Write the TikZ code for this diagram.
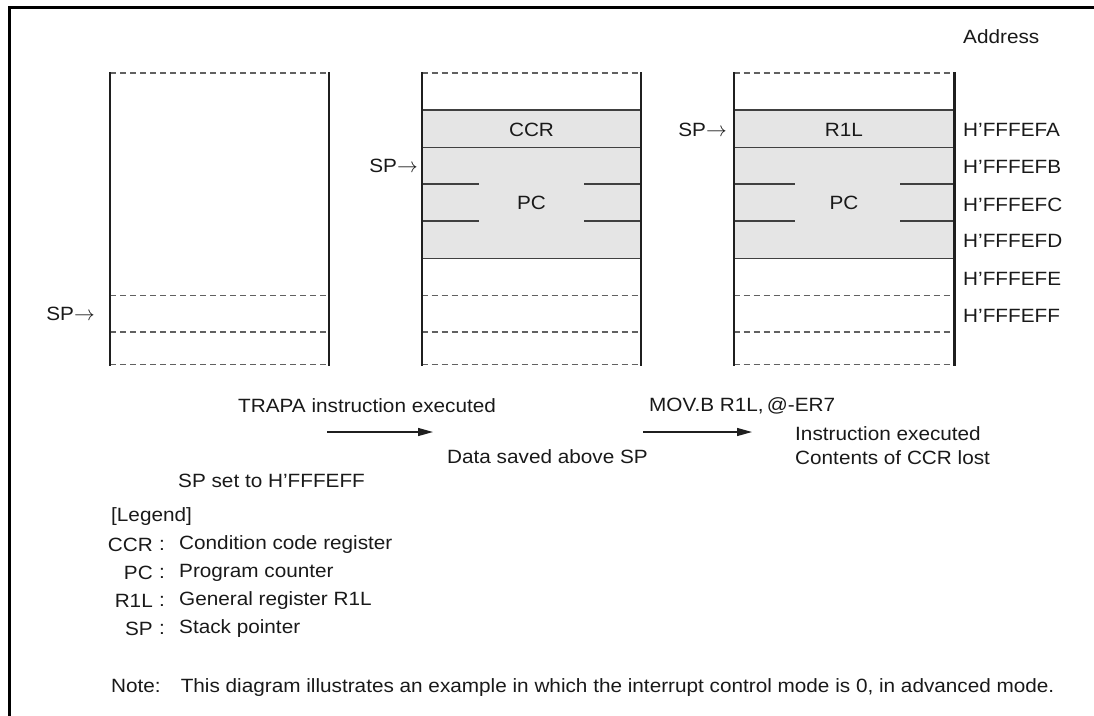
\documentclass[tikz,border=0pt]{standalone}
\usepackage{fontspec}
\setmainfont{Liberation Sans}[FakeStretch=1.08]
\usetikzlibrary{arrows.meta}
\begin{document}
\begin{tikzpicture}[x=1pt,y=-1pt,
  txt/.style={inner sep=0pt, font=\fontsize{19.2}{22}\selectfont, text=black!90},
  colline/.style={line width=2.4pt, draw=black!88},
  solidline/.style={line width=1.4pt, draw=black!75},
  dashline/.style={line width=1.4pt, draw=black!62, dash pattern=on 6pt off 4pt},
  flow/.style={line width=1.3pt, draw=black!88, -{Triangle[length=15pt,width=8pt]}},
  framel/.style={line width=3pt, draw=black}]
\useasboundingbox (0,0) rectangle (1094,715);
% outer frame (open at right and bottom of the crop)
\draw[framel] (9,716) -- (9,7.5) -- (1095,7.5);

% ---------- column 1 ----------
\draw[dashline] (110,73) -- (329,73);
\draw[dashline] (110,295.3) -- (329,295.3);
\draw[dashline] (110,332) -- (329,332);
\draw[dashline] (110,364.5) -- (329,364.5);
\draw[colline] (110,72) -- (110,365.5);
\draw[colline] (329,72) -- (329,365.5);

% ---------- column 2 ----------
\fill[black!10] (421.7,110) rectangle (641,258.3);
\draw[dashline] (421.7,73) -- (641,73);
\draw[solidline] (421.7,110) -- (641,110);
\draw[solidline] (421.7,147.3) -- (641,147.3);
\draw[solidline] (421.7,184) -- (479,184);
\draw[solidline] (584,184) -- (641,184);
\draw[solidline] (421.7,221) -- (479,221);
\draw[solidline] (584,221) -- (641,221);
\draw[solidline] (421.7,258.3) -- (641,258.3);
\draw[dashline] (421.7,295.3) -- (641,295.3);
\draw[dashline] (421.7,332) -- (641,332);
\draw[dashline] (421.7,364.5) -- (641,364.5);
\draw[colline] (421.7,72) -- (421.7,365.5);
\draw[colline] (641,72) -- (641,365.5);

% ---------- column 3 ----------
\fill[black!10] (733.7,110) rectangle (954.3,258.3);
\draw[dashline] (733.7,73) -- (954.3,73);
\draw[solidline] (733.7,110) -- (954.3,110);
\draw[solidline] (733.7,147.3) -- (954.3,147.3);
\draw[solidline] (733.7,184) -- (794.7,184);
\draw[solidline] (900,184) -- (954.3,184);
\draw[solidline] (733.7,221) -- (794.7,221);
\draw[solidline] (900,221) -- (954.3,221);
\draw[solidline] (733.7,258.3) -- (954.3,258.3);
\draw[dashline] (733.7,295.3) -- (954.3,295.3);
\draw[dashline] (733.7,332) -- (954.3,332);
\draw[dashline] (733.7,364.5) -- (954.3,364.5);
\draw[colline] (733.7,72) -- (733.7,365.5);
\draw[colline] (954.3,72) -- (954.3,365.5);

% ---------- cell texts ----------
\node[txt] (ccr) at (531.5,130) {CCR};
\node[txt] (pc2) at (531.5,203) {PC};
\node[txt] (r1l) at (844,130) {R1L};
\node[txt] (pc3) at (844,203) {PC};

% ---------- SP pointers ----------
\node[txt,anchor=east] (sp1) at (95,314) {SP$\rightarrow$};
\node[txt,anchor=east] (sp2) at (418,166) {SP$\rightarrow$};
\node[txt,anchor=east] (sp3) at (727,130) {SP$\rightarrow$};

% ---------- addresses ----------
\node[txt,anchor=west] (addr) at (963,37) {Address};
\node[txt,anchor=west] (afa) at (963,130) {H'FFFEFA};
\node[txt,anchor=west] (afb) at (963,167) {H'FFFEFB};
\node[txt,anchor=west] (afc) at (963,204.5) {H'FFFEFC};
\node[txt,anchor=west] (afd) at (963,241) {H'FFFEFD};
\node[txt,anchor=west] (afe) at (963,279) {H'FFFEFE};
\node[txt,anchor=west] (aff) at (963,316) {H'FFFEFF};

% ---------- transitions ----------
\node[txt,anchor=west] (trapa) at (238,406) {TRAPA instruction executed};
\coordinate (a1s) at (327,432);
\coordinate (a1e) at (433,432);
\draw[flow] (a1s) -- (a1e);
\node[txt,anchor=west] (saved) at (447,457) {Data saved above SP};
\node[txt,anchor=west] (spset) at (178,481) {SP set to H'FFFEFF};

\node[txt,anchor=west] (mov) at (649,406) {MOV.B R1L,\,@-ER7};
\coordinate (a2s) at (643,432);
\coordinate (a2e) at (752,432);
\draw[flow] (a2s) -- (a2e);
\node[txt,anchor=west] (instr) at (795,434) {Instruction executed};
\node[txt,anchor=west] (lost) at (795,458) {Contents of CCR lost};

% ---------- legend ----------
\node[txt,anchor=west] (leg) at (111,517) {[Legend]};
\node[txt,anchor=east] (lccr) at (153,545) {CCR};
\node[txt] (cccr) at (162,545) {:};
\node[txt,anchor=west] (dccr) at (179,545) {Condition code register};
\node[txt,anchor=east] (lpc) at (153,573) {PC};
\node[txt] (cpc) at (162,573) {:};
\node[txt,anchor=west] (dpc) at (179,573) {Program counter};
\node[txt,anchor=east] (lr1l) at (153,601) {R1L};
\node[txt] (cr1l) at (162,601) {:};
\node[txt,anchor=west] (dr1l) at (179,601) {General register R1L};
\node[txt,anchor=east] (lsp) at (153,629) {SP};
\node[txt] (csp) at (162,629) {:};
\node[txt,anchor=west] (dsp) at (179,629) {Stack pointer};

\node[txt,anchor=west] (note) at (111,688) {Note:\hspace{20pt}This diagram illustrates an example in which the interrupt control mode is 0, in advanced mode.};
\end{tikzpicture}
\end{document}
